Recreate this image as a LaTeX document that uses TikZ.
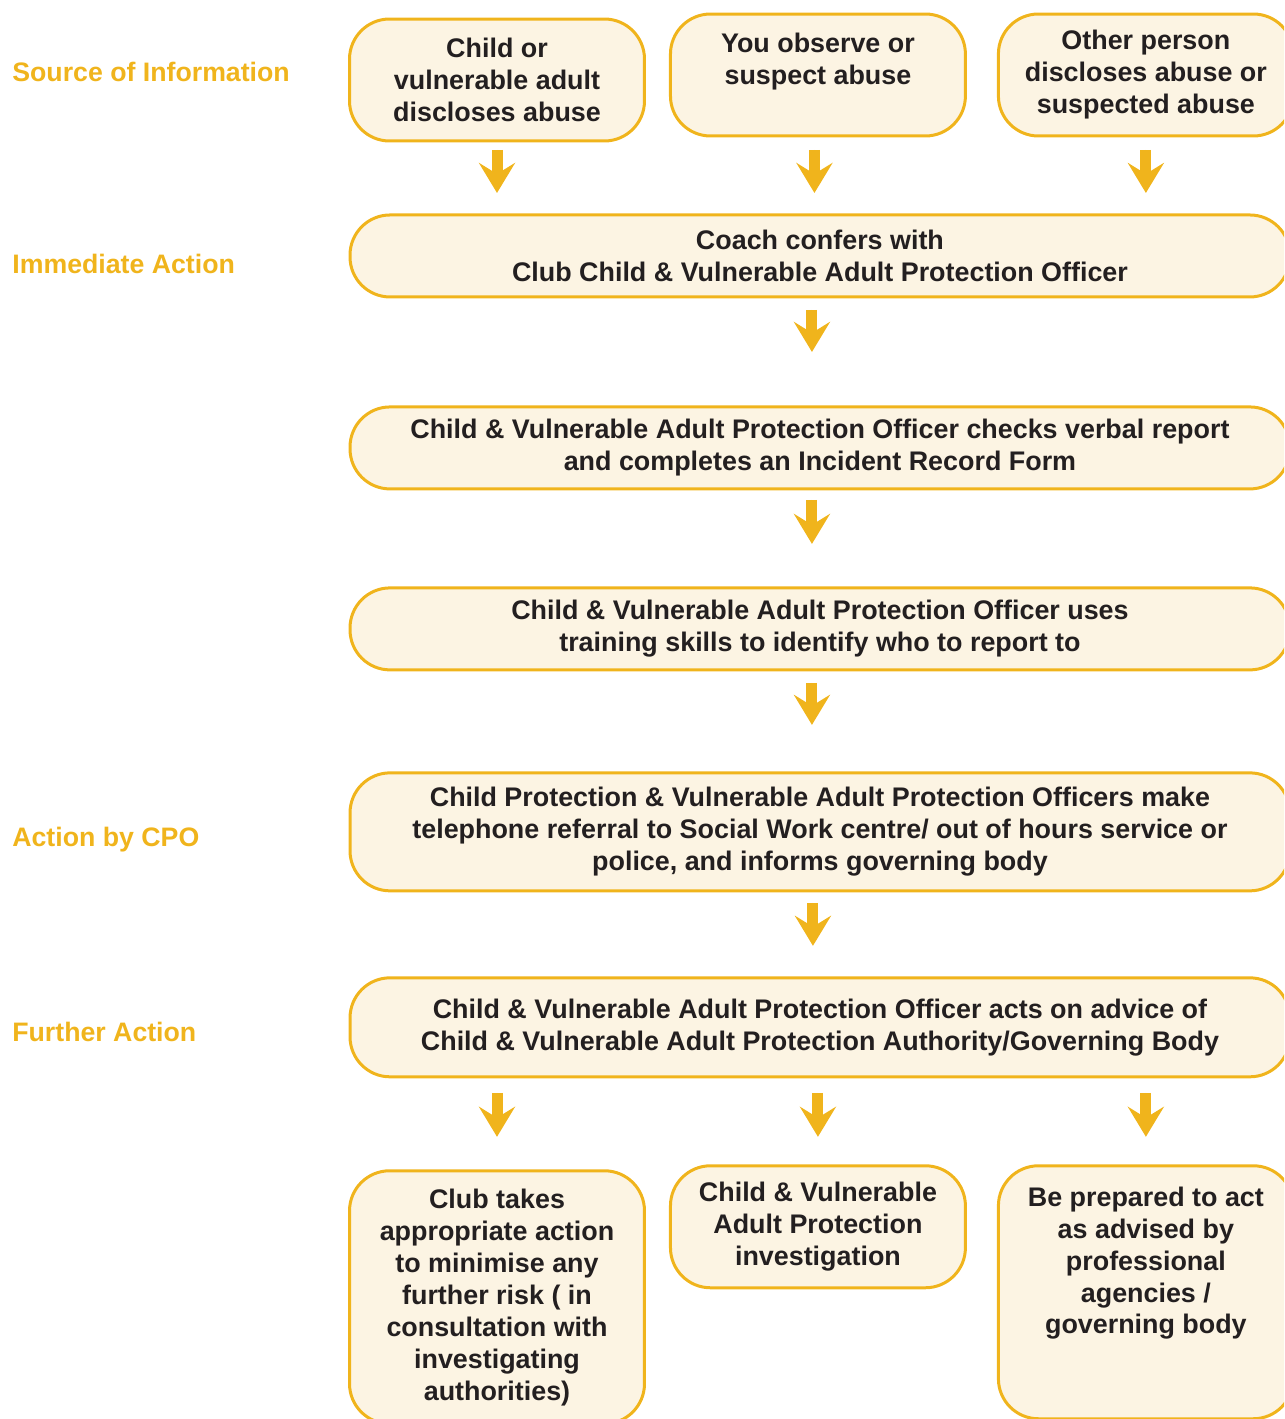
\documentclass[tikz,border=0pt]{standalone}
\usepackage{fontspec}
\setmainfont{Liberation Sans}
\usetikzlibrary{positioning, arrows.meta}
\definecolor{chartOrange}{HTML}{F0B41C}
\definecolor{chartCream}{HTML}{FCF4E3}
\definecolor{chartInk}{HTML}{231F20}
\tikzset{Box/.style={%
    shape=rectangle,%
    rounded corners=0.8cm,%
    draw=chartOrange,%
    fill=chartCream,%
    line width=0.06cm,%
    outer sep=0pt,%
    text=chartInk,%
    align=center,%
    font=\fontsize{15.3pt}{18.2pt}\selectfont\bfseries,%
}}
\tikzset{SmallBox/.style={%
    Box,%
    minimum width=5.9cm,%
    minimum height=2.44cm,%
}}
\tikzset{TallBox/.style={%
    Box,%
    minimum width=5.9cm,%
    minimum height=5.06cm,%
}}
\tikzset{WideBox/.style={%
    Box,%
    minimum width=18.8cm,%
    minimum height=1.64cm,%
}}
\tikzset{SideLabel/.style={%
    anchor=west,%
    inner sep=0pt,%
    text=chartOrange,%
    font=\fontsize{15.2pt}{18.2pt}\selectfont\bfseries,%
}}
\tikzset{FlowArrow/.style={%
    -{Stealth[length=0.6cm, width=0.72cm, inset=0.22cm]},%
    draw=chartOrange,%
    fill=chartOrange,%
    line width=0.22cm,%
}}

\begin{document}
\begin{tikzpicture}[x=0.02cm, y=-0.02cm]
    \useasboundingbox (0,0) rectangle (1284,1419);
    \clip (0,0) rectangle (1284,1419);

    % side labels
    \node[SideLabel] (lblSource) at (12,72) {Source of Information};
    \node[SideLabel] (lblImmediate) at (12,264) {Immediate Action};
    \node[SideLabel] (lblCPO) at (12,840) {Action by CPO};
    \node[SideLabel] (lblFurther) at (12,1032) {Further Action};

    % source of information
    \node[SmallBox] (src1) at (497,80) {Child or\\vulnerable adult\\discloses abuse};
    \node[SmallBox, right=0.52cm of src1, yshift=0.1cm] (src2) {You observe or\\suspect abuse\\~};
    \node[SmallBox, right=0.66cm of src2] (src3) {Other person\\discloses abuse or\\suspected abuse};

    % main steps
    \node[WideBox, below=1.58cm of src2, xshift=0.04cm] (imm) {Coach confers with\\Club Child \& Vulnerable Adult Protection Officer};
    \node[WideBox, below=2.2cm of imm] (check) {Child \& Vulnerable Adult Protection Officer checks verbal report\\and completes an Incident Record Form};
    \node[WideBox, below=1.98cm of check] (uses) {Child \& Vulnerable Adult Protection Officer uses\\training skills to identify who to report to};
    \node[WideBox, below=2.06cm of uses, minimum height=2.36cm] (cpo) {Child Protection \& Vulnerable Adult Protection Officers make\\telephone referral to Social Work centre/ out of hours service or\\police, and informs governing body};
    \node[WideBox, below=1.74cm of cpo, minimum height=1.98cm] (further) {Child \& Vulnerable Adult Protection Officer acts on advice of\\Child \& Vulnerable Adult Protection Authority/Governing Body};

    % outcomes
    \node[TallBox, anchor=north, yshift=-1.88cm] (res1) at (src1.south |- further.south) {Club takes\\appropriate action\\to minimise any\\further risk ( in\\consultation with\\investigating\\authorities)};
    \node[SmallBox, below=1.78cm of further, xshift=-0.04cm] (res2) {Child \& Vulnerable\\Adult Protection\\investigation};
    \node[TallBox, anchor=north, yshift=-1.78cm] (res3) at (src3.south |- further.south) {Be prepared to act\\as advised by\\professional\\agencies /\\governing body\\~\\~};

    \path (src1.south) edge[FlowArrow, shorten <=0.18cm, shorten >=0.44cm] (src1.south |- imm.north);
    \path ([xshift=-0.07cm]src2.south) edge[FlowArrow, shorten <=0.28cm, shorten >=0.44cm] ([xshift=-0.07cm]src2.south |- imm.north);
    \path (src3.south) edge[FlowArrow, shorten <=0.28cm, shorten >=0.44cm] (src3.south |- imm.north);
    \path ([xshift=-0.16cm]imm.south) edge[FlowArrow, shorten <=0.26cm, shorten >=1.1cm] ([xshift=-0.16cm]check.north);
    \path ([xshift=-0.16cm]check.south) edge[FlowArrow, shorten <=0.22cm, shorten >=0.88cm] ([xshift=-0.16cm]uses.north);
    \path ([xshift=-0.16cm]uses.south) edge[FlowArrow, shorten <=0.26cm, shorten >=0.96cm] ([xshift=-0.16cm]cpo.north);
    \path ([xshift=-0.14cm]cpo.south) edge[FlowArrow, shorten <=0.24cm, shorten >=0.64cm] ([xshift=-0.14cm]further.north);
    \path (res1.north |- further.south) edge[FlowArrow, shorten <=0.32cm, shorten >=0.68cm] (res1.north);
    \path (res2.north |- further.south) edge[FlowArrow, shorten <=0.32cm, shorten >=0.58cm] (res2.north);
    \path (res3.north |- further.south) edge[FlowArrow, shorten <=0.32cm, shorten >=0.58cm] (res3.north);
\end{tikzpicture}
\end{document}
